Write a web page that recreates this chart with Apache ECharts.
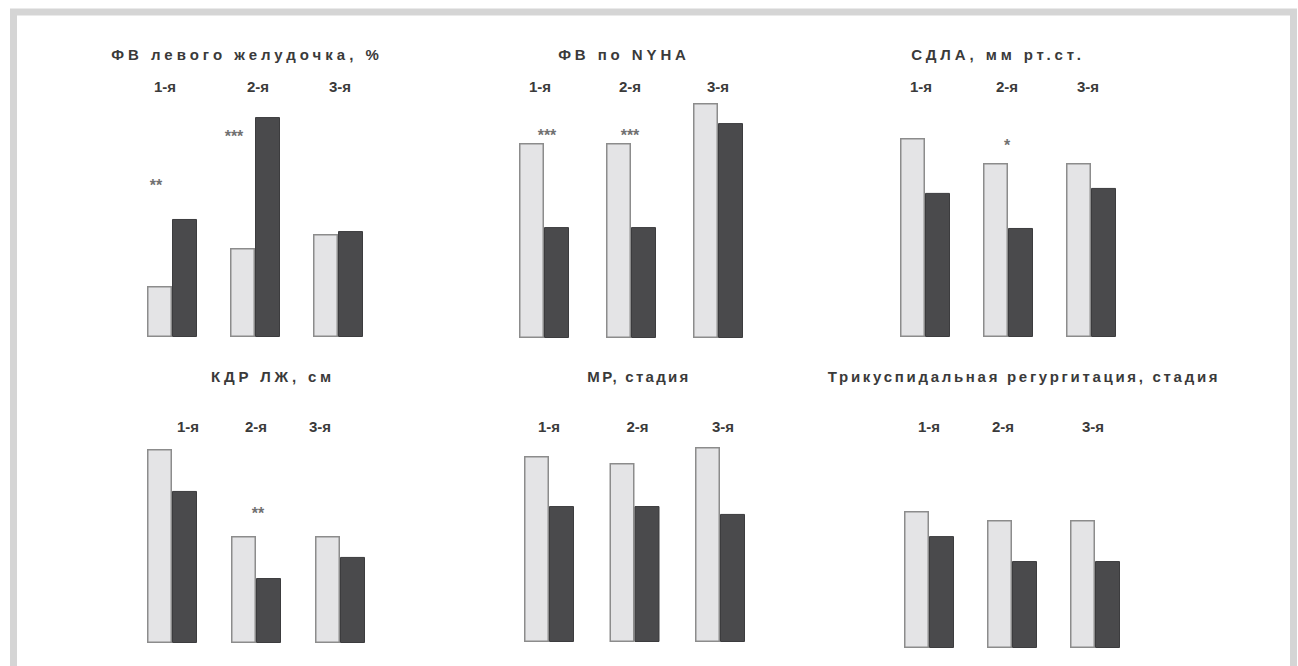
<!DOCTYPE html>
<html lang="ru">
<head>
    <meta charset="UTF-8">
    <title>echo</title>
    <script src="https://cdn.jsdelivr.net/npm/echarts@6/dist/echarts.min.js"></script>
    <style>
        html, body {
            margin: 0;
            padding: 0;
            background: #fff;
        }
    </style>
</head>
<body>
<div id="main" style="width:1298px;height:666px;"></div>
<script>
    // группы
    var categories = ['1-я', '2-я', '3-я'];

    var titles = [
        'ФВ левого желудочка, %',
        'ФВ по NYHA',
        'СДЛА, мм рт.ст.',
        'КДР ЛЖ, см',
        'МР, стадия',
        'Трикуспидальная регургитация, стадия'
    ];

    // значения (светлые / тёмные столбцы), в условных единицах шкалы 0..100
    var lvefBefore = [21.5, 37.6, 43.5];
    var lvefAfter = [49.8, 92.8, 44.7];
    var nyhaBefore = [81.9, 81.9, 98.7];
    var nyhaAfter = [46.6, 46.6, 90.3];
    var sdlaBefore = [84.0, 73.4, 73.4];
    var sdlaAfter = [60.8, 46.0, 62.9];
    var kdrBefore = [95.6, 52.7, 52.7];
    var kdrAfter = [74.9, 32.0, 42.4];
    var mrBefore = [92.1, 88.6, 96.5];
    var mrAfter = [67.3, 67.3, 63.4];
    var trBefore = [65.9, 61.5, 61.5];
    var trAfter = [53.8, 41.8, 41.8];

    // звёздочки достоверности: [группа, уровень, текст]
    var lvefStars = [[0, 64.1, '**'], [1, 84.8, '***']];
    var nyhaStars = [[0, 84.9, '***'], [1, 84.9, '***']];
    var sdlaStars = [[1, 80.6, '*']];
    var kdrStars = [[1, 64.0, '**']];

    var panelData = [
        [lvefBefore, lvefAfter, lvefStars],
        [nyhaBefore, nyhaAfter, nyhaStars],
        [sdlaBefore, sdlaAfter, sdlaStars],
        [kdrBefore, kdrAfter, kdrStars],
        [mrBefore, mrAfter, []],
        [trBefore, trAfter, []]
    ];

    // расположение панелей
    var layout = [
        {left: 130.5, width: 249, top: 100, height: 237, tx: 247, ty: 54, ls: 4.0, shift: [-7, 3, 2], starDx: [-16, -21]},
        {left: 500.5, width: 261, top: 100, height: 238, tx: 624, ty: 54, ls: 3.9, shift: [-4, -1, 0], starDx: [3, -1]},
        {left: 883.5, width: 249, top: 100, height: 237, tx: 998, ty: 54, ls: 3.9, shift: [-4, -1, -3], starDx: [-1]},
        {left: 130, width: 252, top: 440, height: 203, tx: 273, ty: 376, ls: 3.8, shift: [16, 0, -20], starDx: [2]},
        {left: 506.25, width: 256.5, top: 440, height: 202, tx: 639, ty: 376, ls: 2.3, shift: [0, 3, 3], starDx: []},
        {left: 887.5, width: 249, top: 440, height: 208, tx: 1024, ty: 376, ls: 2.7, shift: [0, -9, -2], starDx: []}
    ];

    var textColor = '#3a3a3a';
    var fontFamily = '"Liberation Sans", Arial, sans-serif';

    var myChart = echarts.init(document.getElementById('main'), null, {renderer: 'svg'});

    var grids = [], xAxes = [], yAxes = [], series = [], graphics = [];

    // рамка
    graphics.push({
        type: 'rect',
        shape: {x: 13.5, y: 12, width: 1280, height: 720},
        style: {fill: 'none', stroke: '#d5d5d5', lineWidth: 7},
        silent: true
    });

    for (var i = 0; i < layout.length; i++) {
        var L = layout[i];
        grids.push({left: L.left, width: L.width, top: L.top, height: L.height});

        var axisData = [];
        for (var j = 0; j < categories.length; j++) {
            var s = L.shift[j];
            axisData.push({
                value: categories[j],
                textStyle: {padding: s > 0 ? [0, 0, 0, 2 * s] : [0, -2 * s, 0, 0]}
            });
        }

        xAxes.push({
            type: 'category',
            gridIndex: i,
            position: 'top',
            data: axisData,
            axisLine: {show: false},
            axisTick: {show: false},
            splitLine: {show: false},
            axisLabel: {
                margin: 6,
                verticalAlign: 'middle',
                fontSize: 15,
                fontWeight: 'bold',
                fontFamily: fontFamily,
                color: textColor
            }
        });
        yAxes.push({type: 'value', gridIndex: i, min: 0, max: 100, show: false});

        series.push({
            name: 'до',
            type: 'bar',
            xAxisIndex: i,
            yAxisIndex: i,
            barWidth: 25,
            barGap: '0%',
            data: panelData[i][0],
            itemStyle: {color: '#e4e4e6', borderColor: '#8c8c8c', borderWidth: 1.5}
        });
        series.push({
            name: 'после',
            type: 'bar',
            xAxisIndex: i,
            yAxisIndex: i,
            barWidth: 25,
            barGap: '0%',
            data: panelData[i][1],
            itemStyle: {color: '#4a4a4c', borderColor: '#3c3c3e', borderWidth: 1}
        });

        var stars = panelData[i][2];
        if (stars.length) {
            var starItems = [];
            for (var k = 0; k < stars.length; k++) {
                starItems.push({
                    value: stars[k],
                    label: {offset: [L.starDx[k], 0]}
                });
            }
            series.push({
                type: 'scatter',
                xAxisIndex: i,
                yAxisIndex: i,
                symbolSize: 1,
                itemStyle: {color: 'rgba(0,0,0,0)'},
                data: starItems,
                label: {
                    show: true,
                    position: 'inside',
                    fontSize: 16,
                    fontWeight: 'bold',
                    fontFamily: fontFamily,
                    color: '#4a4a4a',
                    formatter: function (p) {
                        return p.value[2];
                    }
                }
            });
        }

        graphics.push({
            type: 'text',
            x: L.tx,
            y: L.ty,
            style: {
                text: titles[i],
                align: 'center',
                verticalAlign: 'middle',
                fontSize: 15,
                fontWeight: 'bold',
                fontFamily: fontFamily,
                fill: textColor
            }
        });
    }

    var option = {
        backgroundColor: '#fff',
        animation: false,
        grid: grids,
        xAxis: xAxes,
        yAxis: yAxes,
        series: series,
        graphic: graphics
    };

    myChart.setOption(option);

    // разрядка заголовков
    function spaceTitles() {
        var nodes = document.querySelectorAll('#main text');
        for (var n = 0; n < nodes.length; n++) {
            var idx = titles.indexOf(nodes[n].textContent);
            if (idx !== -1) {
                nodes[n].style.letterSpacing = layout[idx].ls + 'px';
            }
        }
    }
    spaceTitles();
    myChart.on('finished', spaceTitles);
</script>
</body>
</html>
